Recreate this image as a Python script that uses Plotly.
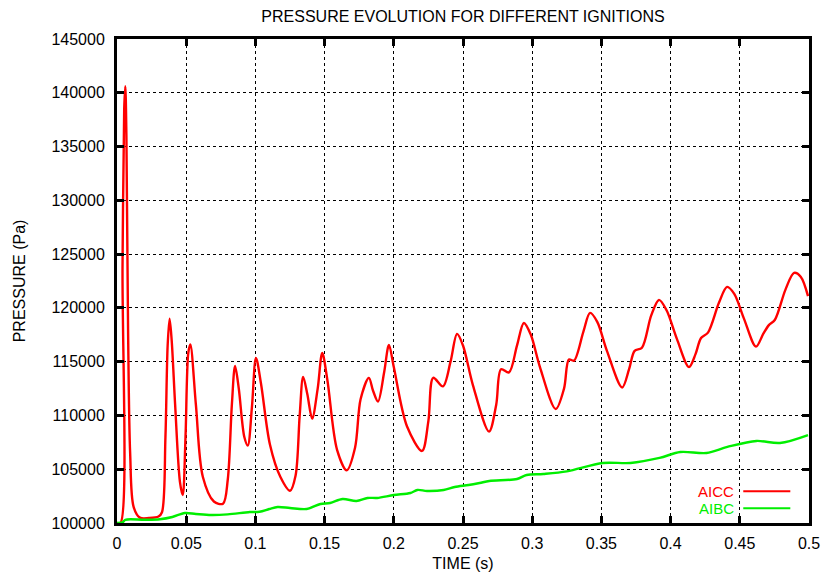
import plotly.graph_objects as go

# AICC series (time s, pressure Pa)
aicc_t = [0.0, 0.0025, 0.0040, 0.0052, 0.0060, 0.0068, 0.0080, 0.0095, 0.0120, 0.0165, 0.0230,
          0.0300, 0.0325, 0.0350, 0.0366, 0.0380, 0.0395, 0.0420, 0.0455, 0.0475, 0.0495,
          0.0515, 0.0530, 0.0570, 0.0620, 0.0700, 0.0766, 0.0800, 0.0830, 0.0853, 0.0880,
          0.0920, 0.0945, 0.0975, 0.1004, 0.1040, 0.1105, 0.1180, 0.1250, 0.1290, 0.1320,
          0.1345, 0.1375, 0.1410, 0.1450, 0.1483, 0.1520, 0.1590, 0.1660, 0.1720, 0.1760,
          0.1820, 0.1850, 0.1886, 0.1930, 0.1965, 0.2000, 0.2095, 0.2204, 0.2250, 0.2285,
          0.2355, 0.2410, 0.2457, 0.2500, 0.2572, 0.2688, 0.2740, 0.2775, 0.2832, 0.2890,
          0.2940, 0.2990, 0.3056, 0.3170, 0.3230, 0.3265, 0.3302, 0.3370, 0.3418, 0.3470,
          0.3540, 0.3650, 0.3700, 0.3740, 0.3793, 0.3860, 0.3916, 0.3970, 0.4046, 0.4133,
          0.4180, 0.4220, 0.4270, 0.4350, 0.4408, 0.4460, 0.4530, 0.4617, 0.4670, 0.4710,
          0.4754, 0.4830, 0.4892, 0.4940, 0.4993]
aicc_p = [100000, 100000, 124000, 138500, 140600, 136000, 118000, 106500, 101500, 100500, 100460,
          100600, 101000, 108000, 116500, 119000, 117000, 111000, 103800, 102600, 108000,
          115800, 116600, 111000, 104300, 102000, 101800, 104000, 111000, 114600, 112500,
          108000, 107200, 110800, 115350, 113000, 107300, 104300, 103000, 104400, 110000,
          113580, 112000, 109700, 112500, 115810, 113300, 106800, 104900, 107000, 111500,
          113490, 112300, 111300, 114000, 116550, 114500, 109000, 106700, 109500, 113500,
          112700, 115000, 117580, 116500, 112800, 108500, 111000, 114300, 114000, 116500,
          118600, 117500, 114500, 110600, 112500, 115200, 115100, 117800, 119530, 118700,
          116000, 112600, 114300, 116000, 116300, 119300, 120740, 119800, 117100, 114500,
          115700, 117200, 117700, 120500, 121950, 121300, 119000, 116400, 117600, 118400,
          118900, 121700, 123250, 122900, 121100]

# AIBC series
aibc_t = [0.0, 0.0040, 0.0060, 0.0200, 0.0310, 0.0400, 0.0490, 0.0570, 0.0680, 0.0800, 0.0960,
          0.1030, 0.1100, 0.1160, 0.1250, 0.1370, 0.1470, 0.1540, 0.1630, 0.1730, 0.1810,
          0.1880, 0.2000, 0.2120, 0.2170, 0.2240, 0.2360, 0.2440, 0.2540, 0.2620, 0.2690,
          0.2890, 0.2960, 0.3080, 0.3250, 0.3510, 0.3710, 0.3920, 0.4070, 0.4260, 0.4410,
          0.4620, 0.4790, 0.4993]
aibc_p = [100000, 100050, 100300, 100300, 100350, 100560, 100930, 100840, 100740, 100800, 101020,
          101050, 101300, 101490, 101400, 101300, 101770, 101860, 102230, 102050, 102330,
          102330, 102600, 102790, 103070, 102980, 103070, 103350, 103530, 103720, 103910,
          104090, 104460, 104560, 104800, 105580, 105580, 106050, 106600, 106510, 107070,
          107630, 107440, 108180]

x_ticks = [0, 0.05, 0.1, 0.15, 0.2, 0.25, 0.3, 0.35, 0.4, 0.45, 0.5]
x_tick_text = ["0", "0.05", "0.1", "0.15", "0.2", "0.25", "0.3", "0.35", "0.4", "0.45", "0.5"]
y_ticks = [100000, 105000, 110000, 115000, 120000, 125000, 130000, 135000, 140000, 145000]
y_tick_text = [str(v) for v in y_ticks]

RED = "#ff0000"
GREEN = "#00ee00"
FONT = "Liberation Sans, Arial, sans-serif"

fig = go.Figure()
fig.add_trace(go.Scatter(x=aicc_t, y=aicc_p, mode="lines", name="AICC",
                         line=dict(color=RED, width=2.4, shape="spline", smoothing=0.9),
                         showlegend=False, cliponaxis=True))
fig.add_trace(go.Scatter(x=aibc_t, y=aibc_p, mode="lines", name="AIBC",
                         line=dict(color=GREEN, width=2.4, shape="spline", smoothing=0.9),
                         showlegend=False, cliponaxis=True))

axis_common = dict(
    showline=True, linecolor="black", linewidth=3, mirror="ticks",
    ticks="inside", ticklen=7, tickwidth=3, tickcolor="black",
    showgrid=True, gridcolor="black", gridwidth=1, griddash="dot",
    zeroline=False, automargin=False,
    tickfont=dict(family=FONT, size=16, color="black"),
)

fig.update_xaxes(range=[0, 0.5], tickvals=x_ticks, ticktext=x_tick_text,
                 title=dict(text="TIME (s)", font=dict(family=FONT, size=16, color="black"), standoff=7),
                 ticklabelstandoff=4, **axis_common)
fig.update_yaxes(range=[100000, 145000], tickvals=y_ticks, ticktext=y_tick_text,
                 title=dict(text="PRESSURE (Pa)", font=dict(family=FONT, size=16, color="black"), standoff=22),
                 ticklabelstandoff=6, **axis_common)

# legend drawn in paper coordinates (text left, sample line right)
legend_items = [("AICC", RED, 0.0655), ("AIBC", GREEN, 0.0305)]
for name, col, yp in legend_items:
    fig.add_annotation(xref="paper", yref="paper", x=0.893, y=yp, text=name,
                       showarrow=False, xanchor="right", yanchor="middle",
                       font=dict(family=FONT, size=15, color=col), borderpad=0)
    fig.add_shape(type="line", xref="paper", yref="paper", x0=0.905, x1=0.973, y0=yp, y1=yp,
                  line=dict(color=col, width=2))

fig.update_layout(
    width=827, height=577,
    margin=dict(l=117, r=18, t=39, b=54, autoexpand=False),
    paper_bgcolor="white", plot_bgcolor="white",
    title=dict(text="PRESSURE EVOLUTION FOR DIFFERENT IGNITIONS", x=0.5, xref="paper", xanchor="center",
               y=0.972, yanchor="middle", font=dict(family=FONT, size=16, color="black")),
)

fig.write_html("out.html")
